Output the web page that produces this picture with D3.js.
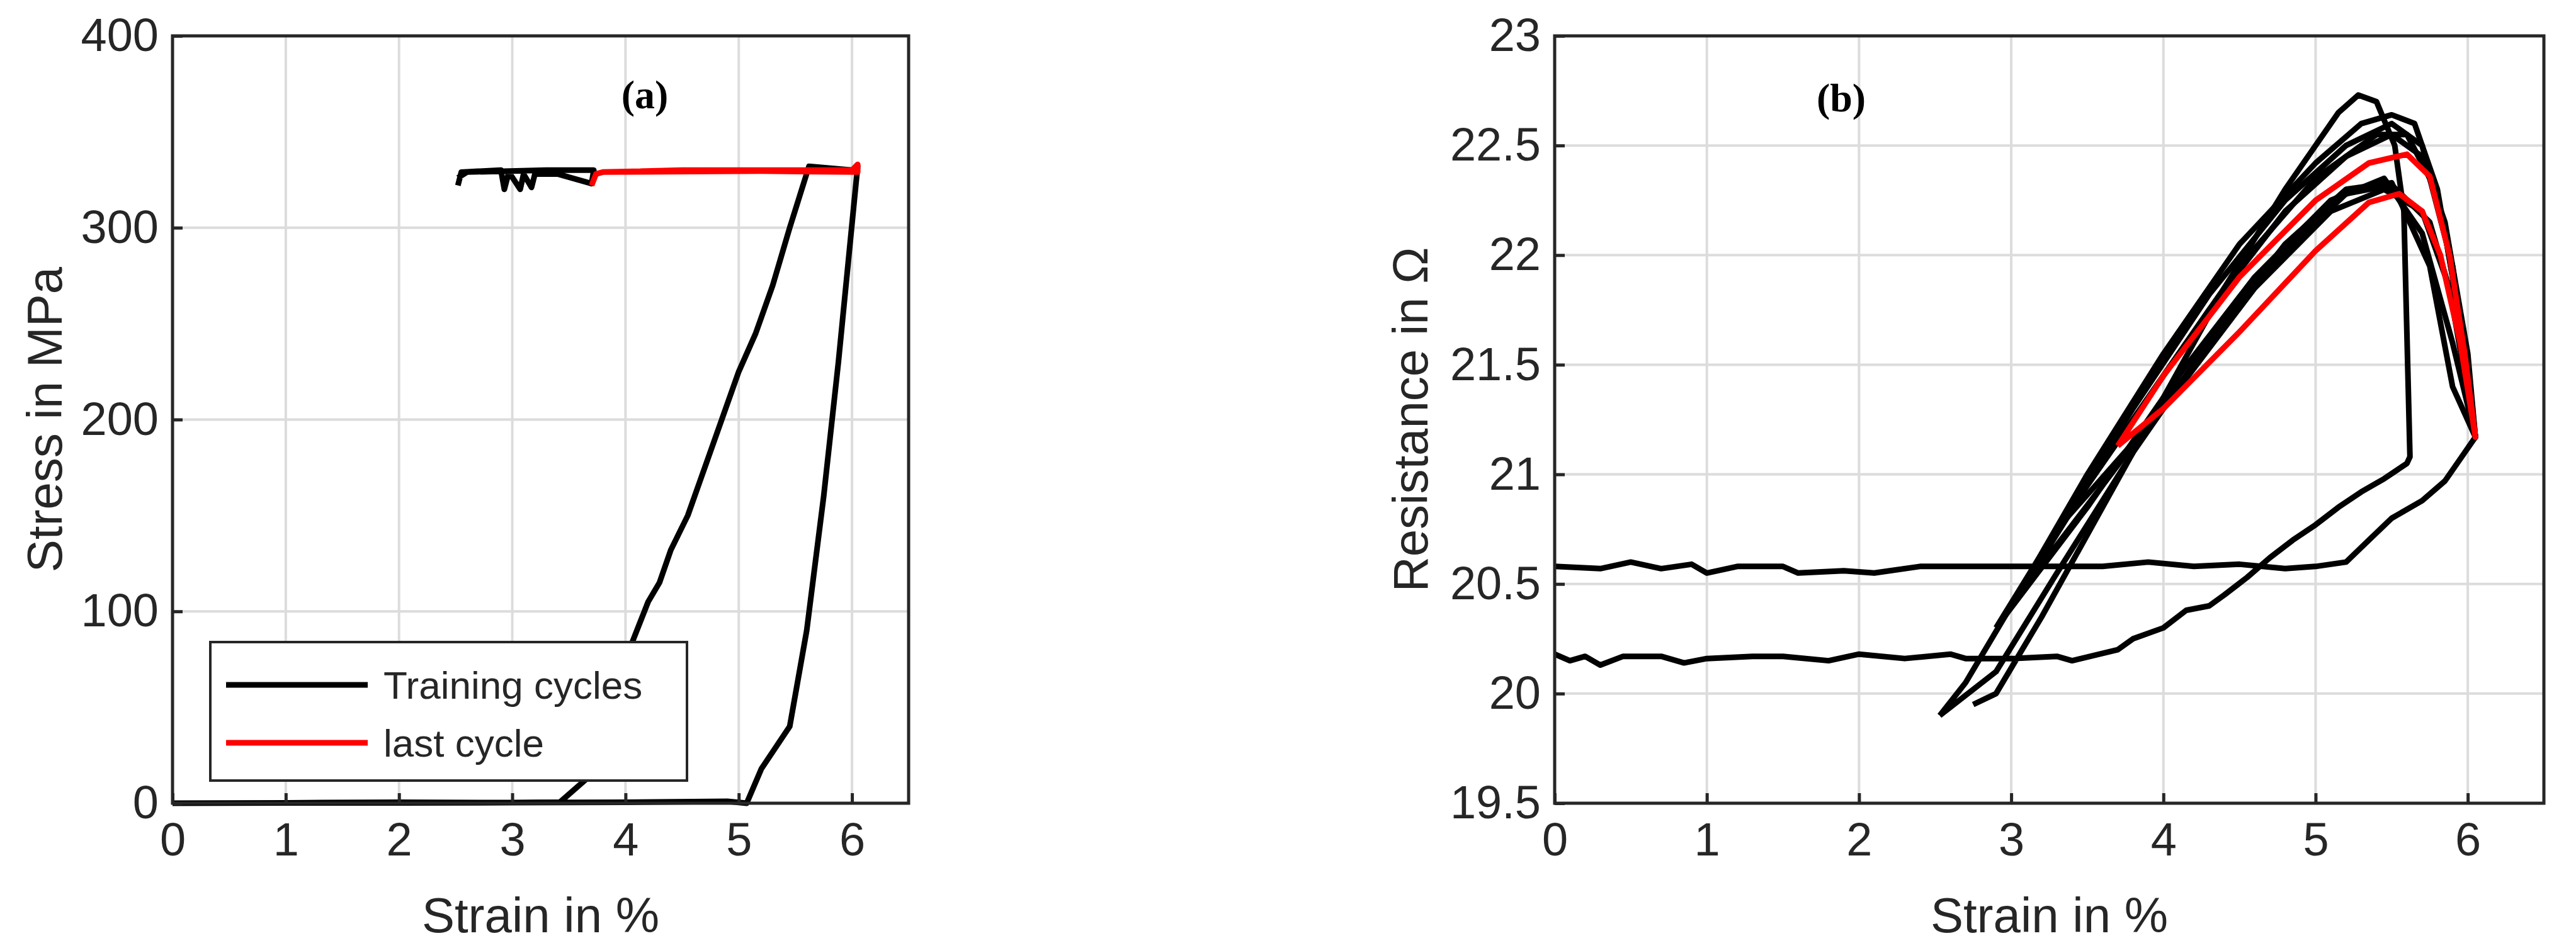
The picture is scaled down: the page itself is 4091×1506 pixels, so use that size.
<!DOCTYPE html>
<html><head><meta charset="utf-8">
<script src="https://cdnjs.cloudflare.com/ajax/libs/d3/7.8.5/d3.min.js"></script>
<style>body{margin:0;background:#fff}text{font-family:"Liberation Sans",Arial,sans-serif;fill:#262626}</style>
</head><body><div id="container"></div>
<script>
// (a) stress-strain
const aXTicks = [0, 1, 2, 3, 4, 5, 6];
const aYTicks = [0, 100, 200, 300, 400];
const aBase = [[0,0],[1,0.2],[2,0.5],[3,0.3],[3.42,0.5],[3.7,15],[3.78,40],[3.85,55],[4.0,75],[4.1,90],[4.2,105],[4.3,115],[4.4,132],[4.55,150],[4.7,175],[4.85,200],[5.0,225],[5.15,245],[5.3,270],[5.45,300],[5.62,332],[6.0,330],[6.05,332],[5.98,290],[5.88,230],[5.75,160],[5.6,90],[5.45,40],[5.2,18],[5.07,0],[4.9,1],[4,0.5],[3,0.3],[2,0.2],[1,0.2],[0,0]];
const aPlateau = [[2.52,322],[2.55,329],[2.9,330],[2.93,320],[2.97,329],[3.07,320],[3.1,328],[3.17,321],[3.2,328],[3.4,328],[3.7,323],[3.72,330],[3.3,330],[2.6,329],[2.52,326]];
const aRed = [[3.7,322],[3.74,328],[3.8,329],[4.5,330],[5.5,330],[6.0,330],[6.05,333],[6.05,329],[5.2,329.5],[3.8,329]];

// (b) resistance-strain
const bXTicks = [0, 1, 2, 3, 4, 5, 6];
const bYTicks = [19.5, 20, 20.5, 21, 21.5, 22, 22.5, 23];
const bLower = [[0,20.18],[0.1,20.15],[0.2,20.17],[0.3,20.13],[0.45,20.17],[0.7,20.17],[0.85,20.14],[1.0,20.16],[1.3,20.17],[1.5,20.17],[1.8,20.15],[2.0,20.18],[2.3,20.16],[2.6,20.18],[2.7,20.16],[3.0,20.16],[3.3,20.17],[3.4,20.15],[3.7,20.2],[3.8,20.25],[4.0,20.3],[4.15,20.38],[4.3,20.4],[4.4,20.45],[4.55,20.53],[4.7,20.62],[4.85,20.7],[5.0,20.77],[5.15,20.85],[5.3,20.92],[5.45,20.98],[5.6,21.05],[5.62,21.08],[5.58,22.2],[5.52,22.5],[5.4,22.7],[5.28,22.73],[5.15,22.65],[4.8,22.3],[4.4,21.85],[4.0,21.35],[3.6,20.85],[3.2,20.35],[2.9,20.0],[2.75,19.95]];
const bUpper = [[0,20.58],[0.3,20.57],[0.5,20.6],[0.7,20.57],[0.9,20.59],[1.0,20.55],[1.2,20.58],[1.5,20.58],[1.6,20.55],[1.9,20.56],[2.1,20.55],[2.4,20.58],[2.8,20.58],[3.2,20.58],[3.6,20.58],[3.9,20.6],[4.2,20.58],[4.5,20.59],[4.8,20.57],[5.0,20.58],[5.2,20.6],[5.35,20.7],[5.5,20.8],[5.7,20.88],[5.85,20.97],[5.95,21.07],[6.05,21.17]];
const bCycle1 = [[2.53,19.9],[2.7,20.05],[3.0,20.4],[3.5,21.0],[4.0,21.55],[4.5,22.05],[5.0,22.42],[5.3,22.6],[5.5,22.64],[5.65,22.6],[5.8,22.3],[5.95,21.7],[6.05,21.17],[5.9,21.4],[5.75,21.95],[5.5,22.33],[5.2,22.3],[4.8,22.05],[4.3,21.6],[3.8,21.1],[3.3,20.55],[2.9,20.1],[2.53,19.9]];
const bCycle2 = [[2.9,20.3],[3.3,20.75],[3.8,21.3],[4.3,21.82],[4.8,22.25],[5.2,22.5],[5.5,22.6],[5.7,22.5],[5.85,22.1],[6.0,21.5],[6.05,21.17],[5.9,21.6],[5.7,22.1],[5.45,22.35],[5.1,22.25],[4.6,21.9],[4.1,21.45],[3.5,20.85],[2.9,20.3]];
const bCycle3 = [[3.05,20.45],[3.5,20.95],[4.0,21.45],[4.5,21.95],[5.0,22.35],[5.4,22.55],[5.6,22.55],[5.75,22.35],[5.9,21.95],[6.05,21.17],[5.92,21.75],[5.75,22.15],[5.5,22.32],[5.2,22.28],[4.7,21.95],[4.2,21.5],[3.6,20.95],[3.05,20.45]];
const bCycle4 = [[3.3,20.75],[3.8,21.25],[4.3,21.75],[4.8,22.2],[5.2,22.45],[5.5,22.55],[5.7,22.45],[5.85,22.15],[6.0,21.55],[6.05,21.17],[5.88,21.85],[5.7,22.2],[5.45,22.3],[5.1,22.2],[4.6,21.85],[4.0,21.3],[3.3,20.75]];
const bRed = [[3.7,21.13],[4.0,21.45],[4.5,21.9],[5.0,22.25],[5.35,22.42],[5.6,22.46],[5.75,22.36],[5.88,22.0],[5.98,21.55],[6.05,21.17],[5.95,21.6],[5.82,22.0],[5.7,22.2],[5.55,22.28],[5.35,22.24],[5.0,22.02],[4.5,21.65],[4.0,21.3],[3.7,21.13]];

const svg = d3.select("#container").append("svg").attr("width", 4091).attr("height", 1506);

function panel(opt) {
  const g = svg.append("g").attr("transform", `translate(${opt.left},57)`);
  const w = opt.width, h = 1219;
  const x = d3.scaleLinear().domain([0, 6.5]).range([0, w]);
  const y = d3.scaleLinear().domain(opt.yDomain).range([h, 0]);
  g.append("g").selectAll("line").data(opt.xTicks).enter().append("line")
    .attr("x1", d => x(d)).attr("x2", d => x(d)).attr("y1", 0).attr("y2", h)
    .attr("stroke", "#dcdcdc").attr("stroke-width", 4);
  g.append("g").selectAll("line").data(opt.yTicks).enter().append("line")
    .attr("y1", d => y(d)).attr("y2", d => y(d)).attr("x1", 0).attr("x2", w)
    .attr("stroke", "#dcdcdc").attr("stroke-width", 4);
  const line = d3.line().x(d => x(d[0])).y(d => y(d[1])).curve(d3.curveLinear);
  opt.black.forEach(s => g.append("path").attr("d", line(s)).attr("fill", "none")
    .attr("stroke", "#000").attr("stroke-width", 9).attr("stroke-linejoin", "round"));
  g.append("path").attr("d", line(opt.red)).attr("fill", "none")
    .attr("stroke", "#ff0000").attr("stroke-width", 9).attr("stroke-linejoin", "round");
  const xa = g.append("g").attr("transform", `translate(0,${h})`)
    .call(d3.axisBottom(x).tickValues(opt.xTicks).tickSize(-16).tickPadding(30).tickFormat(d3.format("d")));
  const ya = g.append("g").call(d3.axisLeft(y).tickValues(opt.yTicks).tickSize(-16).tickPadding(22).tickFormat(d => d));
  [xa, ya].forEach(a => {
    a.select(".domain").remove();
    a.selectAll("line").attr("stroke", "#262626").attr("stroke-width", 5);
    a.selectAll("text").style("font-size", "74px").attr("fill", "#262626");
  });
  g.append("rect").attr("width", w).attr("height", h).attr("fill", "none").attr("stroke", "#262626").attr("stroke-width", 5);
  g.append("text").attr("x", w / 2).attr("y", h + 205).attr("text-anchor", "middle").style("font-size", "78px").text("Strain in %");
  g.append("text").attr("transform", `translate(${opt.yLabelX},${h / 2}) rotate(-90)`).attr("text-anchor", "middle").style("font-size", "78px").text(opt.yLabel);
  g.append("text").attr("x", opt.tag[0]).attr("y", opt.tag[1]).attr("text-anchor", "middle")
    .style("font-family", "'Liberation Serif',serif").style("font-weight", "bold").style("font-size", "64px").style("fill", "#000").text(opt.tagText);
  return g;
}

const ga = panel({ left: 274, width: 1169, yDomain: [0, 400], xTicks: aXTicks, yTicks: aYTicks,
  black: [aBase, aPlateau], red: aRed, yLabel: "Stress in MPa", yLabelX: -176, tag: [750, 115], tagText: "(a)" });
panel({ left: 2469, width: 1571, yDomain: [19.5, 23], xTicks: bXTicks, yTicks: bYTicks,
  black: [bLower, bUpper, bCycle1, bCycle2, bCycle3, bCycle4], red: bRed, yLabel: "Resistance in Ω", yLabelX: -202, tag: [455, 120], tagText: "(b)" });

// legend
const lg = ga.append("g").attr("transform", "translate(60,963)");
lg.append("rect").attr("width", 757).attr("height", 220).attr("fill", "#fff").attr("stroke", "#262626").attr("stroke-width", 4);
[["Training cycles", "#000"], ["last cycle", "#ff0000"]].forEach((d, i) => {
  const yy = 68 + i * 92;
  lg.append("line").attr("x1", 25).attr("x2", 250).attr("y1", yy).attr("y2", yy).attr("stroke", d[1]).attr("stroke-width", 9);
  lg.append("text").attr("x", 275).attr("y", yy + 22).style("font-size", "62px").text(d[0]);
});
</script></body></html>
